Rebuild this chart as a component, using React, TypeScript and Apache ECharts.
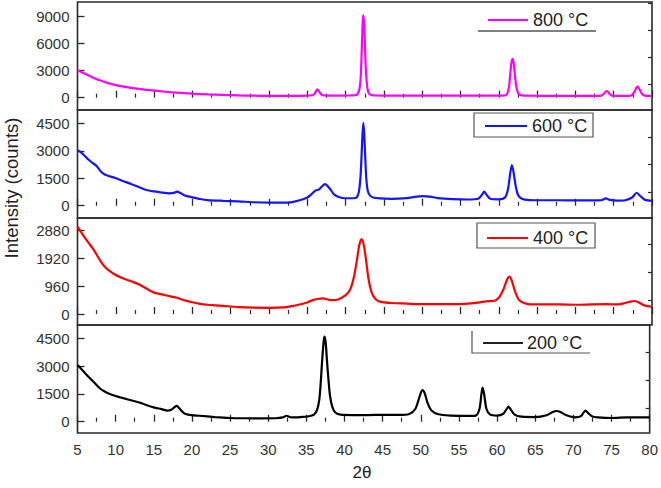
import React, { useEffect, useRef } from "react";
import * as echarts from "echarts";

// 2θ axis
const xMin = 5;
const xMax = 80;
const xStep = 5;

// panel order top -> bottom
const panelLabels = ["800 °C", "600 °C", "400 °C", "200 °C"];
const panelColors = ["#ff00ff", "#1414ff", "#ff0000", "#000000"];
const yRanges: [number, number][] = [
  [-1370, 10630],
  [-670, 5230],
  [-380, 3320],
  [-610, 5220],
];
const yMajor: number[][] = [
  [0, 3000, 6000, 9000],
  [0, 1500, 3000, 4500],
  [0, 960, 1920, 2880],
  [0, 1500, 3000, 4500],
];
const yMinor: number[][] = [
  [1500, 4500, 7500, 10500],
  [750, 2250, 3750],
  [480, 1440, 2400],
  [750, 2250, 3750],
];

const s800: [number, number][] = [
  [5, 3050], [5.5, 2850], [6, 2650], [6.5, 2450], [7, 2250], [8, 1900], [9, 1620], [10, 1400],
  [11, 1230], [12, 1090], [13, 970], [14, 870], [15, 790], [16, 700], [17, 620], [18, 560],
  [19, 500], [20, 450], [22, 360], [24, 300], [26, 250], [28, 220], [30, 200], [32, 190],
  [34, 200], [35, 220], [35.6, 270], [35.9, 380], [36.15, 720], [36.3, 930], [36.5, 750],
  [36.8, 360], [37.2, 250], [38, 230], [39, 230], [40, 240], [41, 250], [41.4, 300],
  [41.6, 450], [41.8, 900], [41.95, 2000], [42.05, 3800], [42.15, 6500], [42.25, 8700],
  [42.33, 9150], [42.42, 8200], [42.52, 6000], [42.62, 3600], [42.75, 1800], [42.9, 800],
  [43.1, 420], [43.4, 280], [44, 240], [45, 230], [48, 220], [50, 230], [52, 220], [55, 220],
  [58, 230], [60, 230], [60.8, 260], [61.1, 420], [61.35, 1300], [61.5, 2700], [61.65, 3900],
  [61.8, 4300], [61.95, 3800], [62.1, 2500], [62.3, 1200], [62.5, 550], [62.8, 290],
  [63.3, 220], [65, 210], [68, 200], [70, 200], [72, 200], [73.3, 210], [73.7, 420],
  [74.0, 700], [74.15, 740], [74.4, 480], [74.8, 230], [75.5, 200], [77, 200], [77.4, 320],
  [77.75, 700], [78.0, 1150], [78.15, 1220], [78.4, 880], [78.7, 420], [79.1, 220],
  [79.6, 190], [80, 180],
];

const s600: [number, number][] = [
  [5, 3040], [5.5, 2900], [6, 2700], [6.5, 2500], [7, 2330], [7.5, 2170], [8, 1900], [8.5, 1720],
  [9, 1640], [10, 1500], [11, 1340], [12, 1190], [13, 1020], [14, 860], [15, 780], [16, 720],
  [17, 680], [17.6, 700], [18, 770], [18.5, 680], [19, 560], [20, 460], [21, 370], [22, 310],
  [24, 270], [26, 240], [28, 190], [30, 170], [32, 170], [33, 200], [34, 300], [35, 450],
  [35.6, 650], [36.1, 840], [36.5, 880], [36.9, 1050], [37.3, 1180], [37.6, 1100], [38, 900],
  [38.5, 620], [39.2, 460], [40, 410], [41, 410], [41.5, 480], [41.75, 800], [41.95, 1600],
  [42.1, 2900], [42.22, 4000], [42.32, 4530], [42.42, 4000], [42.55, 2800], [42.7, 1500],
  [42.9, 800], [43.2, 550], [43.6, 450], [44.5, 400], [46, 380], [48, 420], [49, 480],
  [50, 530], [51, 500], [52, 420], [54, 360], [56, 340], [57.3, 380], [57.8, 600], [58.1, 770],
  [58.4, 600], [58.9, 380], [60, 350], [60.8, 450], [61.2, 900], [61.5, 1800], [61.7, 2220],
  [61.9, 1900], [62.2, 1100], [62.5, 600], [63, 380], [64, 310], [66, 300], [68, 300],
  [70, 290], [72, 290], [73.4, 300], [74, 400], [74.5, 320], [75.5, 280], [76.5, 300],
  [77.4, 450], [78, 710], [78.5, 520], [79.1, 320], [80, 270],
];

const s400: [number, number][] = [
  [5, 3020], [5.5, 2820], [6, 2620], [6.5, 2440], [7, 2270], [7.5, 2050], [8, 1830], [8.5, 1650],
  [9, 1530], [10, 1350], [11, 1230], [12, 1130], [13, 1030], [14, 880], [15, 740], [16, 680],
  [17, 620], [18, 560], [19, 470], [20, 405], [21, 350], [22, 320], [24, 280], [26, 240],
  [28, 220], [30, 215], [32, 230], [33, 270], [34, 330], [35, 400], [35.8, 490], [36.3, 520],
  [37, 540], [37.5, 520], [38, 480], [39, 500], [40, 650], [40.6, 850], [41.1, 1300],
  [41.5, 1900], [41.8, 2400], [42.1, 2590], [42.4, 2350], [42.7, 1800], [43, 1200],
  [43.4, 750], [43.9, 520], [44.5, 430], [46, 380], [48, 360], [50, 340], [52, 340],
  [54, 340], [56, 360], [57.5, 400], [58.3, 440], [59.3, 450], [60, 560], [60.6, 850],
  [61.1, 1200], [61.4, 1290], [61.7, 1150], [62.1, 800], [62.6, 500], [63.3, 380],
  [64.1, 335], [66, 330], [68, 330], [70, 320], [72, 330], [74, 340], [75.5, 330],
  [76.5, 380], [77.2, 430], [77.7, 450], [78.3, 400], [79, 300], [80, 250],
];

const s200: [number, number][] = [
  [5, 3060], [5.5, 2850], [6, 2620], [6.5, 2400], [7, 2200], [7.5, 1980], [8, 1780], [8.5, 1640],
  [9, 1540], [10, 1390], [11, 1270], [12, 1160], [13, 1050], [14, 900], [15, 770], [16, 680],
  [16.8, 600], [17.3, 650], [17.7, 780], [18, 850], [18.4, 700], [18.9, 480], [19.5, 380],
  [21, 320], [23, 250], [25, 200], [27, 185], [29, 180], [31, 185], [31.9, 230], [32.4, 320],
  [32.9, 240], [33.5, 230], [34.5, 260], [35.5, 310], [36, 380], [36.4, 620], [36.7, 1200],
  [36.9, 2200], [37.1, 3500], [37.3, 4450], [37.4, 4590], [37.55, 4200], [37.7, 3300],
  [37.9, 2250], [38.1, 1400], [38.4, 800], [38.8, 500], [39.5, 380], [41, 360], [43, 360],
  [45, 370], [47, 370], [48.5, 420], [49.3, 700], [49.8, 1300], [50.2, 1710], [50.5, 1550],
  [50.9, 1000], [51.4, 600], [52.3, 400], [54, 330], [56, 310], [57.2, 330], [57.7, 700],
  [57.95, 1500], [58.1, 1835], [58.3, 1500], [58.6, 700], [59.1, 380], [60, 330], [60.8, 420],
  [61.2, 650], [61.5, 810], [61.8, 650], [62.3, 380], [63.2, 270], [65, 250], [66.5, 350],
  [67.3, 520], [67.8, 577], [68.3, 520], [69, 360], [70.2, 234], [71, 300], [71.4, 530],
  [71.6, 594], [71.9, 480], [72.5, 280], [73.2, 234], [75, 200], [77, 230], [80, 234],
];

const seriesData = [s800, s600, s400, s200];

const FONT = "'Liberation Sans', Arial, sans-serif";
const AX = "#2a2a2a";

export default function App() {
  const ref = useRef<HTMLDivElement>(null);

  useEffect(() => {
    if (!ref.current) return;
    const chart = echarts.init(ref.current, undefined, { renderer: "svg" });

    const grids = [
      { top: 2, height: 108 },
      { top: 110, height: 108 },
      { top: 218, height: 107 },
      { top: 325, height: 108 },
    ].map((g) => ({
      left: 77.5,
      right: 9,
      top: g.top,
      height: g.height,
      show: true,
      borderColor: AX,
      borderWidth: 1.6,
      backgroundColor: "transparent",
      containLabel: false,
    }));

    const xAxes = grids.map((_, i) => ({
      type: "value",
      gridIndex: i,
      min: xMin,
      max: xMax,
      interval: xStep,
      axisLine: { show: false },
      axisTick: { show: true, inside: true, length: 7, lineStyle: { color: AX, width: 1.3 } },
      minorTick: { show: true, splitNumber: 2, length: 4, lineStyle: { color: AX, width: 1.2 } },
      splitLine: { show: false },
      minorSplitLine: { show: false },
      axisLabel: {
        show: i === 3,
        margin: 9,
        color: "#333",
        fontSize: 15,
        fontFamily: FONT,
        formatter: (v: number) => String(v),
      },
    }));

    const yAxesMajor = grids.map((_, i) => ({
      type: "value",
      gridIndex: i,
      min: yRanges[i][0],
      max: yRanges[i][1],
      axisLine: { show: false },
      splitLine: { show: false },
      axisTick: {
        show: true,
        inside: true,
        length: 7,
        customValues: yMajor[i],
        lineStyle: { color: AX, width: 1.3 },
      },
      axisLabel: {
        show: true,
        customValues: yMajor[i],
        margin: 8,
        color: "#333",
        fontSize: 15,
        fontFamily: FONT,
        formatter: (v: number) => String(v),
      },
    }));

    const yAxesMinor = grids.map((_, i) => ({
      type: "value",
      gridIndex: i,
      min: yRanges[i][0],
      max: yRanges[i][1],
      axisLine: { show: false },
      splitLine: { show: false },
      axisTick: {
        show: true,
        inside: true,
        length: 4,
        customValues: yMinor[i],
        lineStyle: { color: AX, width: 1.2 },
      },
      axisLabel: { show: false },
    }));

    const series = seriesData.map((d, i) => ({
      type: "line",
      name: panelLabels[i],
      xAxisIndex: i,
      yAxisIndex: i,
      data: d,
      showSymbol: false,
      symbol: "none",
      smooth: 0.25,
      lineStyle: { color: panelColors[i], width: 2.2 },
      clip: true,
    }));

    const legendText = (x: number, y: number, t: string) => ({
      type: "text",
      x,
      y,
      style: {
        text: t,
        fill: "#222",
        font: `18px ${FONT}`,
        textVerticalAlign: "middle",
        verticalAlign: "middle",
      },
    });
    const legendLine = (x1: number, x2: number, y: number, c: string) => ({
      type: "line",
      shape: { x1, y1: y, x2, y2: y },
      style: { stroke: c, lineWidth: 2 },
    });

    const graphic = [
      // 800
      { type: "line", shape: { x1: 478, y1: 31, x2: 596, y2: 31 }, style: { stroke: "#555", lineWidth: 1.5 } },
      legendLine(488, 528, 20, panelColors[0]),
      legendText(533, 20, panelLabels[0]),
      // 600
      { type: "rect", shape: { x: 474, y: 113, width: 119, height: 24 }, style: { fill: "#fff", stroke: "#555", lineWidth: 1.2 } },
      legendLine(485, 527, 126, panelColors[1]),
      legendText(532, 126, panelLabels[1]),
      // 400
      { type: "rect", shape: { x: 477, y: 223, width: 118, height: 25 }, style: { fill: "#fff", stroke: "#555", lineWidth: 1.2 } },
      legendLine(487, 528, 238, panelColors[2]),
      legendText(533, 238, panelLabels[2]),
      // 200
      { type: "polyline", shape: { points: [[472, 331], [472, 353], [590, 353]] }, style: { fill: "none", stroke: "#555", lineWidth: 1.2 } },
      legendLine(483, 523, 343, "#222"),
      legendText(527, 343, panelLabels[3]),
      // axis titles
      {
        type: "text",
        x: 11,
        y: 188,
        rotation: Math.PI / 2,
        style: {
          text: "Intensity (counts)",
          fill: "#222",
          font: `18.5px ${FONT}`,
          align: "center",
          verticalAlign: "middle",
        },
      },
      {
        type: "text",
        x: 362,
        y: 472,
        style: {
          text: "2θ",
          fill: "#222",
          font: `17px ${FONT}`,
          align: "center",
          verticalAlign: "middle",
        },
      },
    ];

    chart.setOption({
      animation: false,
      backgroundColor: "#fff",
      grid: grids,
      xAxis: xAxes,
      yAxis: [...yAxesMajor, ...yAxesMinor],
      series,
      graphic,
    } as any);

    return () => chart.dispose();
  }, []);

  return (
    <div
      ref={ref}
      style={{ position: "absolute", left: 0, top: 0, width: 661, height: 488 }}
    />
  );
}
